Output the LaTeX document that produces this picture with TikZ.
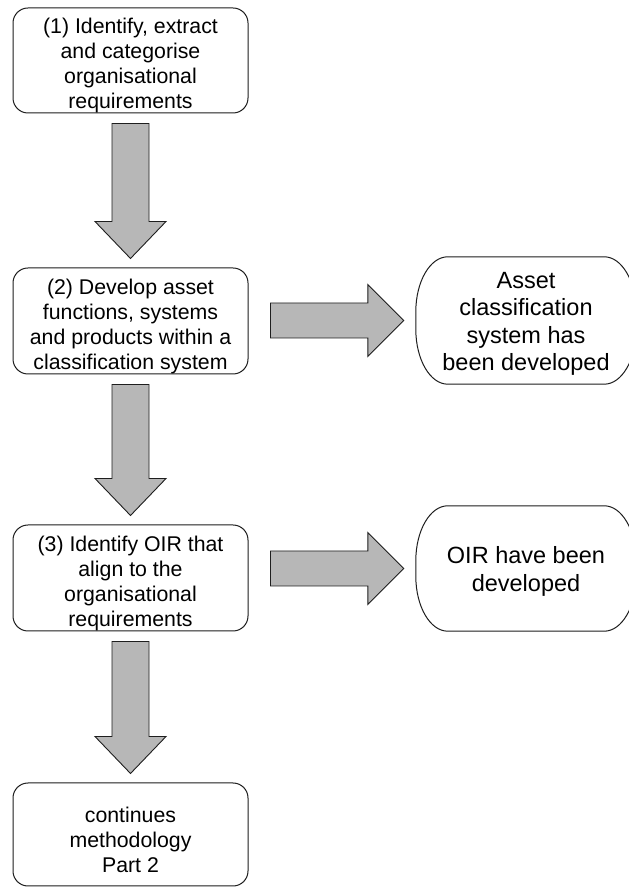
\documentclass[tikz,border=0pt]{standalone}
\usepackage{fontspec}
\setmainfont{Liberation Sans}
\usetikzlibrary{calc}

\definecolor{arrowfill}{RGB}{183,183,183}
\definecolor{edge}{RGB}{30,30,30}

% invisible struts that give the first line a little more head room
\newcommand{\stepleadstrut}{\rule{0pt}{25.5pt}}
\newcommand{\outleadstrut}{\rule{0pt}{23pt}}

\tikzset{
  stepbox/.style={draw=edge, line width=1pt, rounded corners=15pt,
    minimum width=235pt, align=center, inner sep=0pt,
    font=\fontsize{21.3}{25}\selectfont},
  outcomebox/.style={draw=none, align=center, inner sep=0pt,
    minimum width=220pt, font=\fontsize{23.5}{27.5}\selectfont},
  outline/.style={draw=edge, line width=1pt},
  blockarrow/.style={draw=edge, line width=0.9pt, fill=arrowfill, line join=miter},
}

% outline of an outcome box: a rectangle with elliptical corners
\newcommand{\termoutline}[1]{%
  \draw[outline] let \p1=(#1.south west), \p2=(#1.north east) in
    (\x1+32pt,\y2) -- (\x2-32pt,\y2)
    arc[start angle=90, end angle=0, x radius=32pt, y radius=55pt]
    -- (\x2,\y1+55pt)
    arc[start angle=0, end angle=-90, x radius=32pt, y radius=55pt]
    -- (\x1+32pt,\y1)
    arc[start angle=270, end angle=180, x radius=32pt, y radius=55pt]
    -- (\x1,\y2-55pt)
    arc[start angle=180, end angle=90, x radius=32pt, y radius=55pt]
    -- cycle;}

% wide block arrow pointing down from one box to the next
\newcommand{\downblock}[2]{%
  \draw[blockarrow] let \p1=($(#1.south)+(0,-10pt)$), \p2=($(#2.north)+(0,9pt)$) in
    (\x1-18.5pt,\y1) -- (\x1+18.5pt,\y1) -- (\x1+18.5pt,\y2+37pt)
    -- (\x1+35.5pt,\y2+37pt) -- (\x1,\y2) -- (\x1-35.5pt,\y2+37pt)
    -- (\x1-18.5pt,\y2+37pt) -- cycle;}

% wide block arrow pointing right, towards an outcome box
\newcommand{\rightblock}[2]{%
  \draw[blockarrow] let \p1=(#1.east), \p2=(#2.west) in
    (\x1+22pt,\y2+17.5pt) -- (\x2-48pt,\y2+17.5pt) -- (\x2-48pt,\y2+36pt)
    -- (\x2-12pt,\y2) -- (\x2-48pt,\y2-36pt) -- (\x2-48pt,\y2-17.5pt)
    -- (\x1+22pt,\y2-17.5pt) -- cycle;}

\begin{document}
\begin{tikzpicture}[x=1pt, y=1pt]
  \fill[white] (0,0) rectangle (629,887);
  \useasboundingbox (0,0) rectangle (629,887);

  % process steps
  \node[stepbox, minimum height=105pt] (s1) at (130.5,826.5)
    {\stepleadstrut(1) Identify, extract\\and categorise\\organisational\\requirements};
  \node[stepbox, minimum height=106pt] (s2) at (130.5,566)
    {\stepleadstrut(2) Develop asset\\functions, systems\\and products within a\\classification system};
  \node[stepbox, minimum height=106pt] (s3) at (130.5,309)
    {\stepleadstrut(3) Identify OIR that\\align to the\\organisational\\requirements};
  \node[stepbox, minimum height=103pt] (s4) at (130.5,52.5)
    {\stepleadstrut continues\\methodology\\Part 2};

  % outcomes
  \node[outcomebox, minimum height=127pt] (r1) at (526,566.5)
    {\outleadstrut Asset\\classification\\system has\\been developed};
  \node[outcomebox, minimum height=125pt] (r2) at (526,318.5)
    {\outleadstrut OIR have been\\developed};
  \termoutline{r1}
  \termoutline{r2}

  % flow
  \downblock{s1}{s2}
  \downblock{s2}{s3}
  \downblock{s3}{s4}
  \rightblock{s2}{r1}
  \rightblock{s3}{r2}
\end{tikzpicture}
\end{document}
